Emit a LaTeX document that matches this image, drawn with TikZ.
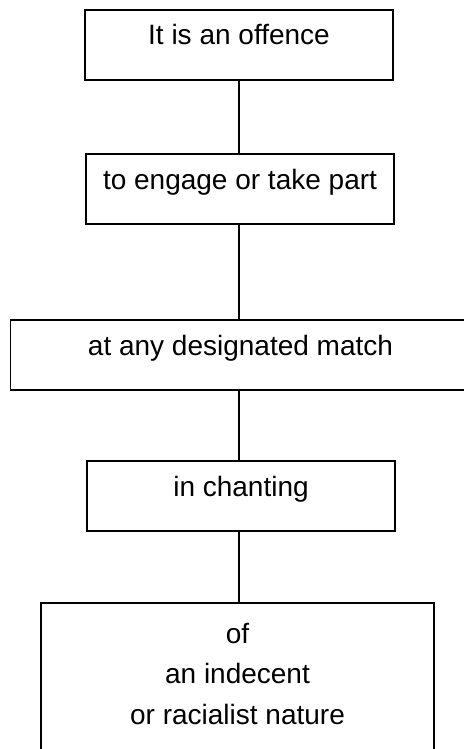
\documentclass[tikz,border=0pt]{standalone}
\usepackage{fontspec}
\setmainfont{Liberation Sans}
\usetikzlibrary{positioning}

\begin{document}
\begin{tikzpicture}[
  x=1bp, y=-1bp,
  node distance=74bp,
  every node/.style={font=\fontsize{28bp}{40.5bp}\selectfont},
  phrase/.style={rectangle, draw, line width=1.5bp, inner xsep=0pt, inner ysep=0pt,
                 outer sep=0pt, minimum width=308bp, text height=35bp,
                 text depth=35bp, align=center},
  link/.style={line width=1.5bp}
]
  \useasboundingbox (0,0) rectangle (464,749);

  \node[phrase, anchor=north] (offence) at (239,10) {It is an offence};
  \node[phrase, below=of offence, xshift=1bp] (engage) {to engage or take part};
  \node[phrase, minimum width=460bp, below=96bp of engage, xshift=0.5bp] (match)
    {at any designated match};
  \node[phrase, below=71bp of match, xshift=0.5bp] (chant) {in chanting};
  \node[phrase, minimum width=393bp, text height=121bp, text depth=40bp,
        below=72bp of chant, xshift=-3.5bp] (nature)
    {of\\an indecent\\or racialist nature};

  \draw[link] (offence.south) -- (offence.south |- engage.north);
  \draw[link] (offence.south |- engage.south) -- (offence.south |- match.north);
  \draw[link] (offence.south |- match.south) -- (offence.south |- chant.north);
  \draw[link] (offence.south |- chant.south) -- (offence.south |- nature.north);
\end{tikzpicture}
\end{document}
